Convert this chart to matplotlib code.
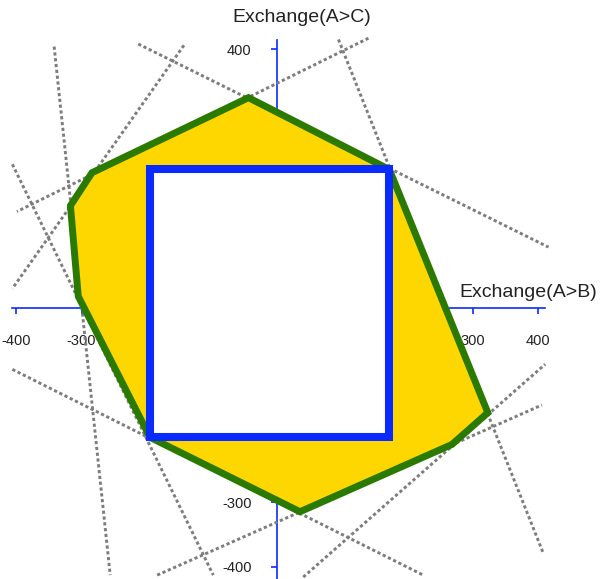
import matplotlib
matplotlib.use('Agg')
import matplotlib.pyplot as plt

plt.rcParams['font.family'] = ['Liberation Sans', 'DejaVu Sans']
plt.rcParams['axes.unicode_minus'] = False

# constraint lines (segment end points, data units)
line_x0 = [-213, -143, -342, -406, -406, -184, 40, 94, 140]
line_y0 = [408, 406, 404, 222, -95, -413, -416, 415, 417]
line_x1 = [416, -406, -256, -98, 224, 406, 411, 408, -399]
line_y1 = [94, 30, -413, -413, -413, -150, -87, -379, 149]

# feasible region (yellow polygon)
poly_x = [-44, 172, 323, 268, 35, -195, -305, -317, -284]
poly_y = [325, 214, -162, -211, -315, -200, 18, 158, 209]

# inner box
box_x = [-195, 172, 172, -195]
box_y = [214, 214, -200, -200]

x_ticks = [-400, -300, 300, 400]
y_ticks = [-400, -300, 400]

BLUE = '#0a2bff'
GREEN = '#2a7a00'
GOLD = '#ffd700'

fig = plt.figure(figsize=(6.0, 5.79), dpi=100)
ax = fig.add_axes([0, 0, 1, 1])
ax.set_xlim(-425, 495)
ax.set_ylim(-419, 476)
ax.set_axisbelow(True)

for x0, y0, x1, y1 in zip(line_x0, line_y0, line_x1, line_y1):
    ax.plot([x0, x1], [y0, y1], color='#7d7d7d', lw=2.1,
            linestyle=(0, (1.1, 0.9)), zorder=1)

ax.fill(poly_x, poly_y, facecolor=GOLD, edgecolor=GREEN, lw=5,
        joinstyle='miter', zorder=2)
ax.fill(box_x, box_y, facecolor='white', edgecolor=BLUE, lw=5.8,
        joinstyle='miter', zorder=3)

# axes through the origin
for side in ['top', 'right']:
    ax.spines[side].set_visible(False)
ax.spines['bottom'].set_position(('data', 0))
ax.spines['left'].set_position(('data', 0))
ax.spines['bottom'].set_bounds(-406, 411)
ax.spines['left'].set_bounds(-430, 414)
for side in ['bottom', 'left']:
    ax.spines[side].set_color(BLUE)
    ax.spines[side].set_linewidth(1.2)
    ax.spines[side].set_zorder(0.5)

ax.set_xticks(x_ticks)
ax.set_yticks(y_ticks)
ax.tick_params(axis='both', direction='out', length=4.5, width=1.2,
               color=BLUE, labelsize=10.5, labelcolor='#222222', pad=14)

ax.text(385, 24, 'Exchange(A>B)', fontsize=14, color='#222222',
        ha='center', va='center')
ax.text(38, 449, 'Exchange(A>C)', fontsize=14, color='#222222',
        ha='center', va='center')

fig.savefig('out.png', dpi=100)
